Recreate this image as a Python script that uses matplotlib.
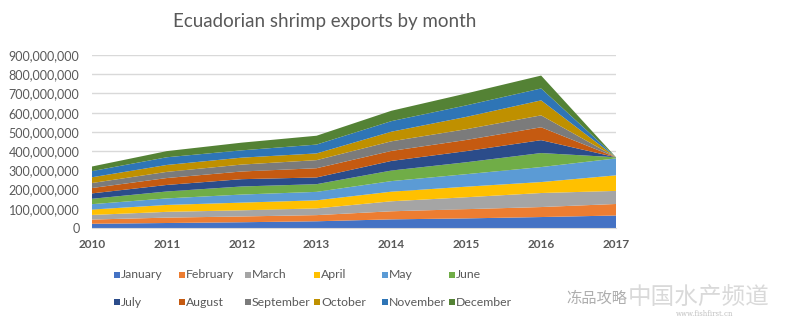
import matplotlib
matplotlib.use("Agg")
import matplotlib.pyplot as plt
from matplotlib.patches import Rectangle
from matplotlib.ticker import FuncFormatter

# Годи та місяці
years = [2010, 2011, 2012, 2013, 2014, 2015, 2016, 2017]
months = ["January", "February", "March", "April", "May", "June",
          "July", "August", "September", "October", "November", "December"]

# Експорт по місяцях (млн USD), читано з картинки
jan = [22, 26, 30, 35, 45, 50, 57, 65]
feb = [22, 28, 30, 32, 42, 48, 52, 60]
mar = [24, 30, 32, 35, 52, 62, 73, 68]
apr = [28, 36, 40, 42, 50, 55, 57, 81]
may = [28, 34, 42, 44, 55, 65, 78, 88]
jun = [28, 36, 42, 40, 55, 62, 73, 6]
jul = [28, 34, 38, 35, 50, 58, 67, 0]
aug = [28, 36, 40, 48, 52, 58, 67, 0]
sep = [26, 32, 36, 42, 50, 56, 62, 0]
oct_ = [30, 36, 36, 35, 50, 64, 78, 0]
nov = [32, 40, 38, 46, 55, 60, 62, 0]
dec = [24, 32, 40, 46, 54, 62, 67, 0]
series = [jan, feb, mar, apr, may, jun, jul, aug, sep, oct_, nov, dec]

colors = ["#4472C4", "#ED7D31", "#A5A5A5", "#FFC000", "#5B9BD5", "#70AD47",
          "#2B4C8A", "#C55A11", "#7B7B7B", "#BF9000", "#2E75B6", "#548235"]

txt = "#595959"
fig = plt.figure(figsize=(8.01, 3.29), dpi=100)
ax = fig.add_axes([92 / 801, 1 - 228 / 329, 524 / 801, 173 / 329])

vals = [[v * 1e6 for v in s] for s in series]
ax.stackplot(years, *vals, colors=colors, linewidth=0)

ax.set_xlim(2010, 2017)
ax.set_ylim(0, 900e6)
ax.set_yticks([i * 100e6 for i in range(10)])
ax.yaxis.set_major_formatter(FuncFormatter(lambda v, p: f"{int(v):,}"))
ax.set_xticks(years)
ax.grid(axis="y", color="#D9D9D9", linewidth=1)
ax.set_axisbelow(True)
for s in ["top", "right", "left"]:
    ax.spines[s].set_visible(False)
ax.spines["bottom"].set_color("#D9D9D9")
ax.tick_params(axis="both", length=0)
ax.tick_params(axis="y", pad=9, labelsize=9, labelcolor=txt)
ax.tick_params(axis="x", pad=8, labelsize=8.5, labelcolor=txt)
for lab in ax.get_yticklabels():
    lab.set_family("Lato")
for lab in ax.get_xticklabels():
    lab.set_family("Lato")
    lab.set_fontweight("bold")

fig.text(325 / 801, 1 - 22 / 329, "Ecuadorian shrimp exports by month",
         ha="center", va="center", fontsize=13.5, color=txt, family="Lato")

# Легенда вручну: 2 рядки по 6 колонок
col_x = [117, 182, 248, 317, 385, 452]
row_y = [275, 302]
for i, m in enumerate(months):
    cx = col_x[i % 6]
    cy = row_y[i // 6]
    fig.add_artist(Rectangle(((cx - 3) / 801, 1 - (cy + 3) / 329), 6 / 801, 6 / 329,
                             transform=fig.transFigure, color=colors[i], lw=0))
    fig.text((cx + 4) / 801, 1 - cy / 329, m, ha="left", va="center",
             fontsize=8.8, color=txt, family="Lato")

# Водяний знак
fig.text(566 / 801, 1 - 298 / 329, "冻品攻略", ha="left", va="center",
         fontsize=11, color="#9a9a9a", family=["Noto Sans CJK SC", "DejaVu Sans"], alpha=0.8)
fig.text(628 / 801, 1 - 298 / 329, "中国水产频道", ha="left", va="center",
         fontsize=17, color="#d0d0d0", family=["Noto Sans CJK SC", "DejaVu Sans"], alpha=0.8)
fig.text(705 / 801, 1 - 314 / 329, "www.fishfirst.cn", ha="center", va="center",
         fontsize=5, color="#c0c0c0", family="DejaVu Serif")

fig.savefig("out.png", dpi=100)
